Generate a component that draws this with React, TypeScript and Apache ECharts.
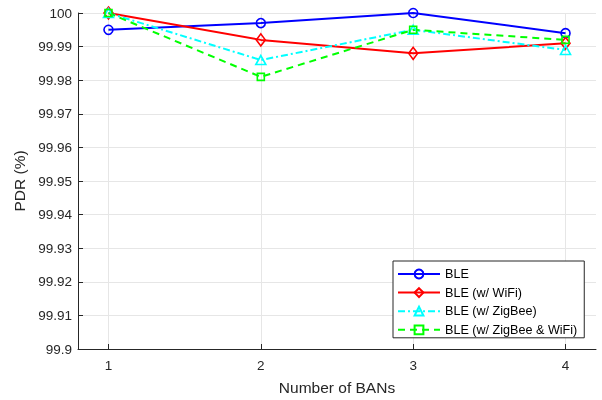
import React, { useEffect, useRef } from "react";
import * as echarts from "echarts";

// Number of BANs on the x axis
const banCounts = [1, 2, 3, 4];

// Packet delivery ratio (%) per configuration
const bleOnly = [99.995, 99.997, 100.0, 99.994];
const bleWifi = [100.0, 99.992, 99.988, 99.991];
const bleZigbee = [100.0, 99.986, 99.995, 99.989];
const bleZigbeeWifi = [100.0, 99.981, 99.995, 99.992];

const seriesNames = [
  "BLE",
  "BLE (w/ WiFi)",
  "BLE (w/ ZigBee)",
  "BLE (w/ ZigBee & WiFi)",
];

const FONT = "'Liberation Sans', Arial, Helvetica, sans-serif";
const AXIS = "#262626";
const GRID = "#e6e6e6";

const toPairs = (ys: number[]) => banCounts.map((x, i) => [x, ys[i]]);

export default function App() {
  const ref = useRef<HTMLDivElement>(null);

  useEffect(() => {
    if (!ref.current) return;
    const chart = echarts.init(ref.current, null, { renderer: "svg" });

    // Line series with hollow (unfilled) markers, so the line shows through them
    const mk = (
      name: string,
      data: number[],
      color: string,
      symbol: string,
      symbolSize: number | number[],
      type: any
    ) => ({
      name,
      type: "line",
      data: toPairs(data),
      symbol,
      symbolSize,
      clip: false,
      lineStyle: { color, width: 2, type },
      itemStyle: { color: "rgba(0,0,0,0)", borderColor: color, borderWidth: 1.6 },
      emphasis: { disabled: true },
    });

    chart.setOption({
      animation: false,
      textStyle: { fontFamily: FONT },
      grid: { left: 78, top: 13, right: 6, bottom: 48, containLabel: false },
      legend: {
        orient: "vertical",
        left: 393,
        top: 261,
        width: 189,
        padding: [6, 7, 1, 4],
        itemWidth: 42,
        itemHeight: 11,
        itemGap: 4.6,
        borderColor: AXIS,
        borderWidth: 1,
        borderRadius: 0,
        backgroundColor: "#ffffff",
        textStyle: { fontSize: 12.6, color: "#000", fontFamily: FONT, lineHeight: 14 },
        data: seriesNames,
      },
      xAxis: {
        type: "value",
        min: 0.8,
        max: 4.2,
        name: "Number of BANs",
        nameLocation: "middle",
        nameGap: 30,
        nameTextStyle: { fontSize: 15.5, color: AXIS, fontFamily: FONT },
        axisLine: { show: true, lineStyle: { color: AXIS, width: 1 } },
        axisTick: {
          show: true,
          inside: true,
          length: 5,
          customValues: banCounts,
          lineStyle: { color: AXIS },
        },
        axisLabel: {
          customValues: banCounts,
          fontSize: 13.5,
          color: AXIS,
          margin: 9,
          fontFamily: FONT,
        },
        splitLine: { show: true, lineStyle: { color: GRID, width: 1 } },
      },
      yAxis: {
        type: "value",
        min: 99.9,
        max: 100,
        interval: 0.01,
        name: "PDR (%)",
        nameLocation: "middle",
        nameGap: 49,
        nameTextStyle: { fontSize: 15.5, color: AXIS, fontFamily: FONT },
        axisLine: { show: true, lineStyle: { color: AXIS, width: 1 } },
        axisTick: { show: true, inside: true, length: 5, lineStyle: { color: AXIS } },
        axisLabel: {
          fontSize: 13.5,
          color: AXIS,
          margin: 6,
          fontFamily: FONT,
          formatter: (v: number) => String(parseFloat(v.toFixed(2))),
        },
        splitLine: { show: true, lineStyle: { color: GRID, width: 1 } },
      },
      series: [
        mk(seriesNames[0], bleOnly, "#0000ff", "circle", 9, "solid"),
        mk(seriesNames[1], bleWifi, "#ff0000", "diamond", [9, 12], "solid"),
        mk(seriesNames[2], bleZigbee, "#00ffff", "triangle", [10, 9], [7, 3, 2, 3]),
        mk(seriesNames[3], bleZigbeeWifi, "#00ff00", "rect", 7, [7, 5]),
      ],
    });

    return () => chart.dispose();
  }, []);

  return (
    <div
      ref={ref}
      style={{ position: "fixed", left: 0, top: 0, width: 602, height: 400 }}
    />
  );
}
